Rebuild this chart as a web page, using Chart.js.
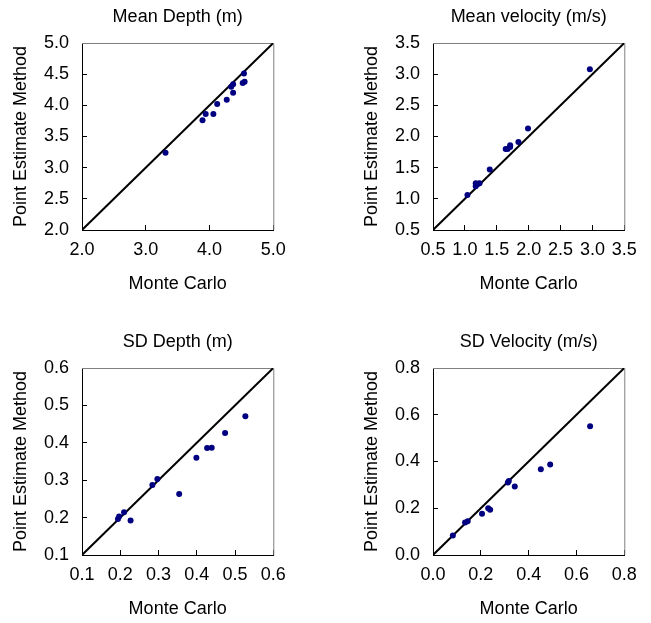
<!DOCTYPE html>
<html>
<head>
<meta charset="utf-8">
<script src="https://cdn.jsdelivr.net/npm/chart.js@4"></script>
<style>
  html, body { margin: 0; padding: 0; background: #fff; overflow: hidden; }
  body { width: 651px; height: 623px; position: relative; }
  canvas { position: absolute; }
</style>
</head>
<body>
<canvas id="c1" width="300" height="298" style="left:0px;top:0px"></canvas>
<canvas id="c2" width="300" height="298" style="left:351px;top:0px"></canvas>
<canvas id="c3" width="300" height="298" style="left:0px;top:325px"></canvas>
<canvas id="c4" width="300" height="298" style="left:351px;top:325px"></canvas>
<script>
// ---- Data ----
const titles = ["Mean Depth (m)", "Mean velocity (m/s)", "SD Depth (m)", "SD Velocity (m/s)"];
const xAxisTitle = "Monte Carlo";
const yAxisTitle = "Point Estimate Method";

const meanDepthMC  = [3.31, 3.89, 3.94, 4.06, 4.12, 4.27, 4.37, 4.34, 4.37, 4.52, 4.55, 4.54];
const meanDepthPEM = [3.24, 3.76, 3.86, 3.86, 4.02, 4.09, 4.20, 4.30, 4.34, 4.36, 4.38, 4.51];
const meanDepthXTicks = [2.0, 3.0, 4.0, 5.0];
const meanDepthYTicks = [2.0, 2.5, 3.0, 3.5, 4.0, 4.5, 5.0];

const meanVelMC  = [1.04, 1.17, 1.17, 1.21, 1.23, 1.39, 1.64, 1.67, 1.71, 1.71, 1.84, 1.99, 2.96];
const meanVelPEM = [1.06, 1.20, 1.25, 1.24, 1.25, 1.47, 1.80, 1.80, 1.86, 1.83, 1.91, 2.13, 3.08];
const meanVelTicks = [0.5, 1.0, 1.5, 2.0, 2.5, 3.0, 3.5];

const sdDepthMC  = [0.194, 0.197, 0.210, 0.227, 0.284, 0.297, 0.354, 0.399, 0.427, 0.439, 0.474, 0.527];
const sdDepthPEM = [0.196, 0.203, 0.214, 0.192, 0.287, 0.303, 0.263, 0.360, 0.386, 0.387, 0.426, 0.471];
const sdDepthTicks = [0.1, 0.2, 0.3, 0.4, 0.5, 0.6];

const sdVelMC  = [0.083, 0.134, 0.145, 0.205, 0.231, 0.239, 0.313, 0.317, 0.342, 0.451, 0.490, 0.657];
const sdVelPEM = [0.083, 0.139, 0.144, 0.176, 0.200, 0.194, 0.310, 0.317, 0.293, 0.367, 0.387, 0.551];
const sdVelTicks = [0.0, 0.2, 0.4, 0.6, 0.8];

// ---- Rendering ----
const FONT = "'Liberation Sans', Arial, Helvetica, sans-serif";
const FS = 18;

const framePlugin = {
  id: 'frame',
  beforeDatasetsDraw(chart) {
    const {ctx, chartArea: a} = chart;
    ctx.save();
    ctx.strokeStyle = '#808080';
    ctx.lineWidth = 1;
    ctx.beginPath();
    ctx.moveTo(a.left, a.top + 0.5);
    ctx.lineTo(a.right + 0.5, a.top + 0.5);
    ctx.lineTo(a.right + 0.5, a.bottom);
    ctx.stroke();
    ctx.restore();
  }
};

function makeChart(id, title, mc, pem, xTicks, yTicks) {
  const pts = mc.map((v, i) => ({x: v, y: pem[i]}));
  const lo = xTicks[0], hi = xTicks[xTicks.length - 1];
  const axisCommon = (ticksArr, pos) => ({
    type: 'linear',
    position: pos,
    min: ticksArr[0],
    max: ticksArr[ticksArr.length - 1],
    afterBuildTicks: s => { s.ticks = ticksArr.map(v => ({value: v})); },
    grid: { drawOnChartArea: false, drawTicks: true, tickLength: -5, color: '#000', lineWidth: 1 },
    border: { display: true, color: '#000', width: 1 },
    ticks: {
      color: '#000',
      font: {family: FONT, size: FS},
      callback: v => Number(v).toFixed(1),
      maxRotation: 0, autoSkip: false,
      padding: pos === 'left' ? 18 : 14.2
    },
    title: {
      display: true,
      text: pos === 'left' ? yAxisTitle : xAxisTitle,
      color: '#000',
      font: {family: FONT, size: FS},
      padding: pos === 'left' ? {top: 10.2, bottom: 0} : {top: 0, bottom: 3.2}
    },
    afterFit: s => { if (pos === 'left') s.width = 82; else s.height = 68; }
  });
  return new Chart(document.getElementById(id), {
    type: 'scatter',
    data: {
      datasets: [
        { type: 'scatter', data: pts, backgroundColor: '#000080', borderWidth: 0, pointRadius: 3, order: 1 },
        { type: 'line', data: [{x: lo, y: lo}, {x: hi, y: hi}], borderColor: '#000', borderWidth: 2,
          pointRadius: 0, fill: false, tension: 0, order: 2 }
      ]
    },
    options: {
      responsive: false, animation: false, devicePixelRatio: 1,
      layout: { padding: {left: 0, right: 25, top: 0, bottom: 0} },
      plugins: {
        legend: {display: false},
        tooltip: {enabled: false},
        title: {
          display: true, text: title, color: '#000', fullSize: false,
          font: {family: FONT, size: FS, weight: 'normal'},
          padding: {top: 6, bottom: 15.4}
        }
      },
      scales: {
        x: axisCommon(xTicks, 'bottom'),
        y: axisCommon(yTicks, 'left')
      }
    },
    plugins: [framePlugin]
  });
}

makeChart('c1', titles[0], meanDepthMC, meanDepthPEM, meanDepthXTicks, meanDepthYTicks);
makeChart('c2', titles[1], meanVelMC, meanVelPEM, meanVelTicks, meanVelTicks);
makeChart('c3', titles[2], sdDepthMC, sdDepthPEM, sdDepthTicks, sdDepthTicks);
makeChart('c4', titles[3], sdVelMC, sdVelPEM, sdVelTicks, sdVelTicks);
</script>
</body>
</html>
